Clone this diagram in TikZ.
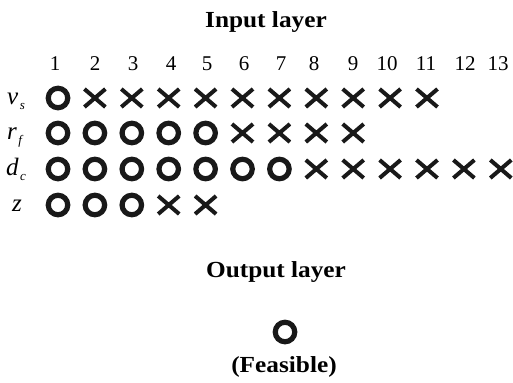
\documentclass[tikz,border=0pt]{standalone}
\usepackage{fontspec}
\setmainfont{Liberation Serif}
\usetikzlibrary{shapes.misc}
\tikzset{
  ring/.style={circle,draw=black!90,line width=5.2bp,minimum size=19.5bp,inner sep=0pt},
  xmark/.style={cross out,draw=black!90,line width=4bp,minimum width=17bp,minimum height=14bp,inner sep=0pt},
  title/.style={font=\fontsize{23bp}{26bp}\selectfont\bfseries,inner sep=0pt,anchor=base},
  colnum/.style={font=\fontsize{21bp}{24bp}\selectfont,inner sep=0pt},
  varlab/.style={font=\fontsize{25bp}{28bp}\selectfont\itshape,inner sep=0pt,anchor=base west}
}
\newcommand{\vsub}[2]{#1\hspace{1.5bp}\raisebox{-5bp}{\fontsize{13bp}{14bp}\selectfont #2}}
\newcommand{\wide}[1]{\scalebox{1.1}[1]{#1}}
\begin{document}
\begin{tikzpicture}[x=1bp,y=1bp]
\useasboundingbox (0,0) rectangle (513,382);
\node[title] (inp) at (266,355) {\wide{Input layer}};
% column numbers
\foreach \i/\xx in {1/55,2/95,3/133,4/171,5/207,6/244,7/281,8/314,9/353,10/387,11/426,12/465,13/498}{
  \node[colnum] (n\i) at (\xx,318.5) {\i};
}
% labels
\node[varlab] (lv) at (7,278) {\vsub{v}{s}};
\node[varlab] (lr) at (7,243) {\vsub{r}{f}};
\node[varlab] (ld) at (6,207) {\vsub{d}{c}};
\node[varlab] (lz) at (12,171) {z};
% rows: name, y, number of circles, last column
\foreach \r/\yy/\nc/\last in {v/284/1/11, r/249/5/9, d/213/7/13, z/177/3/5}{
  \foreach \i in {1,...,\last}{
    \pgfmathsetmacro{\xx}{58+36.9*(\i-1)}
    \ifnum\i>\nc
      \node[xmark] (\r\i) at (\xx,\yy) {};
    \else
      \node[ring] (\r\i) at (\xx,\yy) {};
    \fi
  }
}
\node[title] (outl) at (276,105) {\wide{Output layer}};
\node[ring] (out) at (285,50) {};
\node[title] (feas) at (284,10) {\wide{(Feasible)}};
\end{tikzpicture}
\end{document}
